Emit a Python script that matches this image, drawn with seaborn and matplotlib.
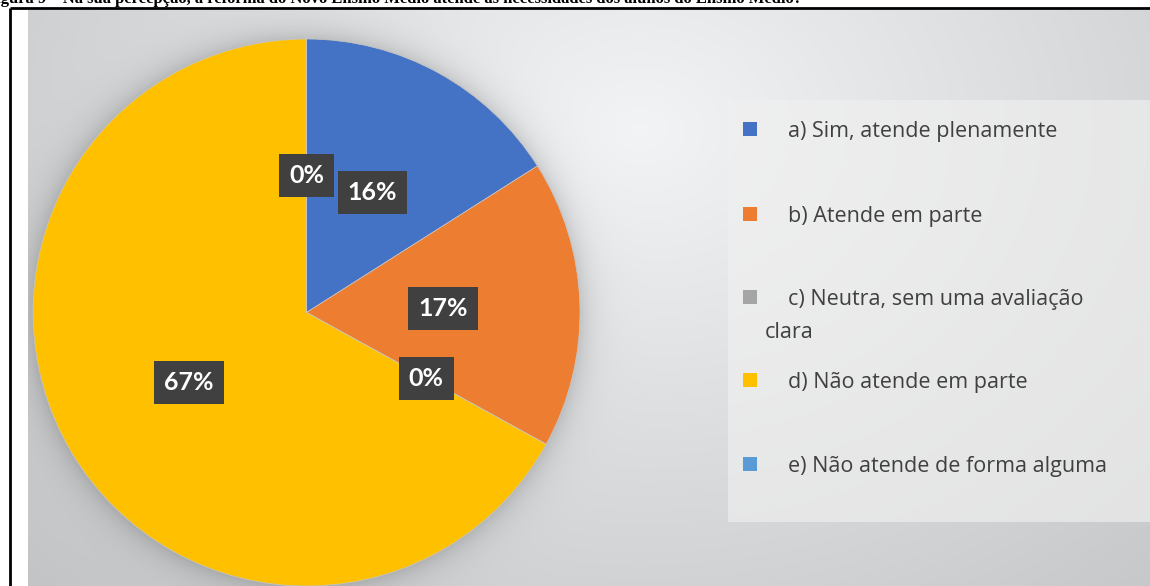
import numpy as np
import matplotlib
matplotlib.use("Agg")
import matplotlib.pyplot as plt
from matplotlib.patches import Rectangle
import seaborn as sns

# ---- data ----
categories = [
    "a) Sim, atende plenamente",
    "b) Atende em parte",
    "c) Neutra, sem uma avaliação\nclara",
    "d) Não atende em parte",
    "e) Não atende de forma alguma",
]
values = [16, 17, 0, 67, 0]
colors = ["#4472C4", "#ED7D31", "#A5A5A5", "#FFC000", "#5B9BD5"]
title_text = ("Figura 9 – Na sua percepção, a reforma do Novo Ensino Médio atende às "
              "necessidades dos alunos do Ensino Médio?")

sns.set_theme(style="white")
plt.rcParams["font.family"] = ["Lato", "DejaVu Sans"]

W, H = 1150, 586
fig = plt.figure(figsize=(W / 100, H / 100), dpi=100)
fig.patch.set_facecolor("white")

# ---- background gradient (chart area) ----
x0, y0 = 28, 10
bg = fig.add_axes([x0 / W, 0, (W - x0) / W, (H - y0) / H])
xs = np.arange(x0, W) + 0.5
ys = np.arange(y0, H) + 0.5
X, Y = np.meshgrid(xs, ys)
d = np.sqrt(((X - 640) / 720) ** 2 + ((Y - 130) / 560) ** 2)
val = np.clip(0.96 - 0.16 * d, 0.77, 0.96)
# soft shadow around pie
cx, cy, R = 306.5, 312.5, 273.5
r = np.sqrt((X - cx) ** 2 + (Y - cy) ** 2)
val = val - np.where(r > R - 2, 0.13 * np.exp(-np.clip(r - R, 0, None) / 14), 0)
img = np.dstack([val * 0.99, val * 0.995, val])
bg.imshow(img, extent=[x0, W, H, y0], aspect="auto", interpolation="bilinear")
bg.set_axis_off()

# ---- overlay axes in pixel coords (frame, legend) ----
ov = fig.add_axes([0, 0, 1, 1], zorder=1)
ov.set_xlim(0, W)
ov.set_ylim(H, 0)
ov.set_axis_off()
ov.patch.set_alpha(0)
ov.plot([9.5, W], [8, 8], color="black", lw=2, solid_capstyle="butt")
ov.plot([9.5, 9.5], [8, H], color="black", lw=2, solid_capstyle="butt")

# caption at top (clipped by the page edge, as in the source)
fig.text(-14 / W, 1 - 3 / H, title_text, family="Liberation Serif", weight="bold",
         fontsize=12, color="black", va="baseline", ha="left")

# legend box
ov.add_patch(Rectangle((728, 100), W - 728, 422, facecolor="#f0f0f0", alpha=0.65,
                       edgecolor="none"))
baselines = [137, 222, 305, 388, 472]
for cat, col, yb in zip(categories, colors, baselines):
    ov.add_patch(Rectangle((743, yb - 15), 14, 14, facecolor=col, edgecolor="none"))
    lines = cat.split("\n")
    ov.text(788, yb, lines[0], fontsize=15.5, color="#404040", va="baseline",
            ha="left", family=["Open Sans", "DejaVu Sans"])
    if len(lines) > 1:
        ov.text(765, yb + 33, lines[1], fontsize=15.5, color="#404040",
                va="baseline", ha="left", family=["Open Sans", "DejaVu Sans"])

# ---- pie ----
ax = fig.add_axes([(cx - R) / W, (H - cy - R) / H, 2 * R / W, 2 * R / H], zorder=2)
ax.patch.set_alpha(0)
wedges, texts, autotexts = ax.pie(
    values, colors=colors, startangle=90, counterclock=False, radius=1,
    autopct=lambda p: f"{p:.0f}%", pctdistance=0.5,
    wedgeprops=dict(linewidth=0.5, edgecolor="#c8c8c8"),
    textprops=dict(color="white", fontsize=18, fontweight="bold", family=["Lato"]),
)
for t in autotexts:
    t.set_bbox(dict(boxstyle="square,pad=0.4", facecolor="#404040", edgecolor="none"))
ax.set_xlim(-1, 1)
ax.set_ylim(-1, 1)
ax.set_aspect("equal")
ax.set_axis_off()

fig.savefig("out.png", dpi=100)
